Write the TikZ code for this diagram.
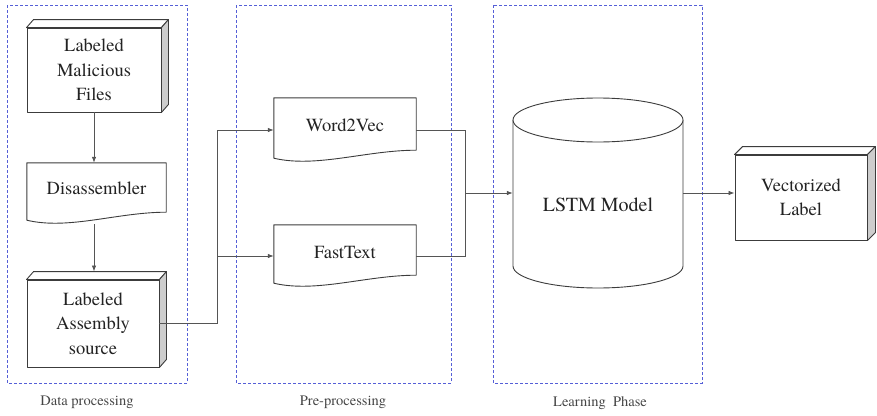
\documentclass[tikz,border=0pt]{standalone}
\usepackage{fontspec}
\setmainfont{TeX Gyre Termes}
\newfontfamily\tms{TeX Gyre Termes}
\usetikzlibrary{arrows.meta,calc}
\definecolor{dashblue}{RGB}{85,95,215}
\definecolor{linec}{RGB}{60,60,60}
\definecolor{conn}{RGB}{85,85,85}
\definecolor{sidegray}{RGB}{205,205,205}
\definecolor{txt}{RGB}{35,35,35}
\definecolor{lbl}{RGB}{70,70,70}
\tikzset{
  face/.style={draw=linec, line width=0.9pt, fill=white, line join=round},
  phase/.style={draw=dashblue, line width=0.9pt, dash pattern=on 3pt off 2pt},
  boxtxt/.style={text=txt, font=\tms\fontsize{18.5}{24.5}\selectfont, align=center, inner sep=0pt},
  cubebox/.style={boxtxt, face},
  docbox/.style={boxtxt},
  conn/.style={draw=conn, line width=0.8pt},
  arr/.style={conn, -{Latex[length=6pt,width=4.5pt]}},
  phaselabel/.style={text=lbl, font=\tms\fontsize{14.5}{17}\selectfont, inner sep=0pt}
}
\newcommand\boxfaces[2]{%
  \filldraw[face] (#1.north west) -- ++(#2) -- ($(#1.north east)+(#2)$) -- (#1.north east) -- cycle;
  \filldraw[face,fill=sidegray] (#1.north east) -- ++(#2) -- ($(#1.south east)+(#2)$) -- (#1.south east) -- cycle;}
\newcommand\docwave[1]{%
  \draw[face] ($(#1.south west)+(0,-4)$) -- (#1.north west) -- (#1.north east) -- ($(#1.south east)+(0,-12)$)
    .. controls ($(#1.south east)!0.35!(#1.south west)+(0,-12)$) and ($(#1.south east)!0.7!(#1.south west)+(0,6)$) .. ($(#1.south west)+(0,-4)$) -- cycle;}
\begin{document}
\begin{tikzpicture}[x=1pt,y=-1pt]
\useasboundingbox (0,0) rectangle (877,415);

% phase frames
\draw[phase] (7,5) rectangle (187,383);
\draw[phase] (236,5) rectangle (451,383);
\draw[phase] (493,5) rectangle (702,383);
\node[phaselabel] (lab1) at (87,402) {Data processing};
\node[phaselabel] (lab2) at (343,402) {Pre-processing};
\node[phaselabel] (lab3) at (600,403) {Learning\ \ Phase};

% document shapes (outline drawn first, text node on top)
\path (96.5,193.5) node[docbox, minimum width=139pt, minimum height=61pt] (dis) {};
\docwave{dis}
\node[boxtxt] at ([yshift=5pt]dis.center) {Disassembler};

\path (345,130) node[docbox, minimum width=142pt, minimum height=64pt] (w2v) {};
\docwave{w2v}
\node[boxtxt] at ([yshift=5pt]w2v.center) {Word2Vec};

\path (345,256) node[docbox, minimum width=142pt, minimum height=62pt] (ft) {};
\docwave{ft}
\node[boxtxt] at ([yshift=4pt]ft.center) {FastText};

% 3D boxes
\node[cubebox, minimum width=134pt, minimum height=84pt] (mal) at (94,70) {Labeled\\Malicious\\Files};
\boxfaces{mal}{7,-8}
\node[cubebox, minimum width=132pt, minimum height=87pt] (asm) at (93,323.5) {Labeled\\Assembly\\source};
\boxfaces{asm}{7,-8}
\node[cubebox, minimum width=132pt, minimum height=85pt] (vec) at (801,197.5) {Vectorized\\Label};
\boxfaces{vec}{8,-8}

% cylinder
\draw[face] (513,120) -- (513,266) arc[start angle=180, end angle=360, x radius=85pt, y radius=22pt] -- (683,120);
\draw[face] (598,120) ellipse[x radius=85pt, y radius=22pt];
\node[boxtxt, font=\tms\fontsize{20}{24}\selectfont, minimum width=170pt] (lstm) at (598,205) {LSTM Model};

% connectors
\coordinate (split) at (217,130);
\coordinate (merge) at (465,193);
\draw[arr] (mal.south) -- (mal.south |- dis.north);
\draw[arr] (dis.south -| mal.south) -- ([yshift=8pt]asm.north -| mal.south);
\draw[conn] (asm.east) -| (split);
\draw[arr] (split) -- (w2v.west);
\draw[arr] (split |- ft.west) -- (ft.west);
\draw[conn] (w2v.east) -| (merge);
\draw[conn] (ft.east) -| (merge);
\draw[arr] (merge) -- (merge -| lstm.west);
\draw[arr] (merge -| lstm.east) -- (merge -| vec.west);
\end{tikzpicture}
\end{document}
